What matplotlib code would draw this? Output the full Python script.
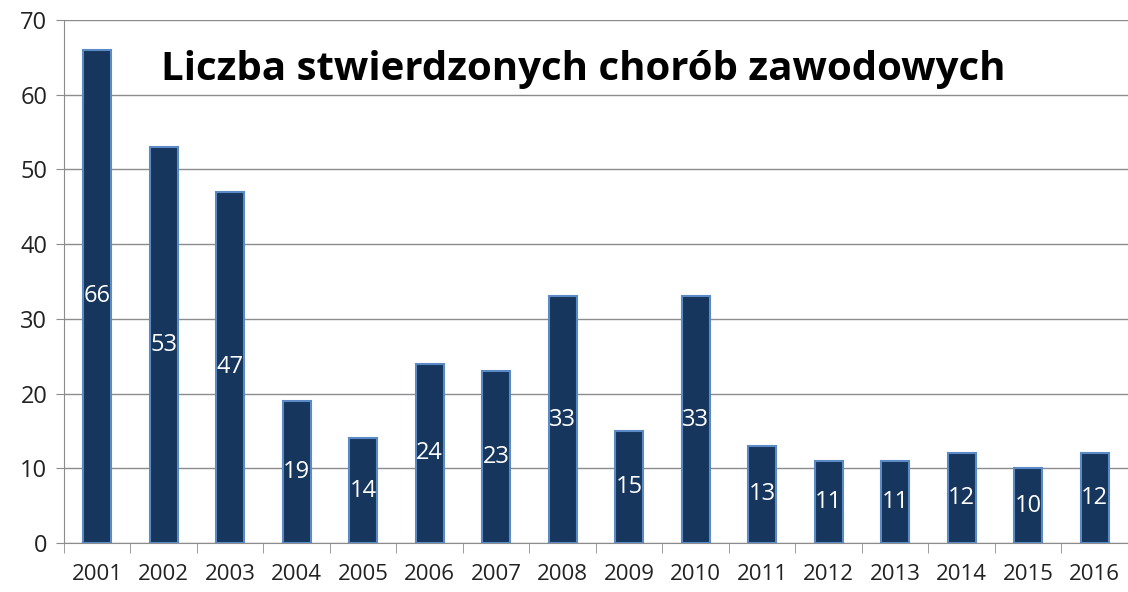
import matplotlib.pyplot as plt
import numpy as np

years = ['2001', '2002', '2003', '2004', '2005', '2006', '2007', '2008',
         '2009', '2010', '2011', '2012', '2013', '2014', '2015', '2016']
cases = [66, 53, 47, 19, 14, 24, 23, 33, 15, 33, 13, 11, 11, 12, 10, 12]
y_ticks = [0, 10, 20, 30, 40, 50, 60, 70]

plt.rcParams['font.family'] = ['Open Sans', 'DejaVu Sans']

fig = plt.figure(figsize=(11.28, 5.92), dpi=100)
ax = fig.add_axes([0.0567, 0.0828, 0.9433, 0.8834])

x = np.arange(len(years))
bars = ax.bar(x, cases, width=0.42, color='#17365D', edgecolor='#5B8BC7',
              linewidth=1.5, zorder=3)

# value labels in the middle of each bar
for xi, v in zip(x, cases):
    ax.text(xi, v / 2, str(v), ha='center', va='center', color='white',
            fontsize=17, zorder=4)

ax.set_xlim(-0.5, len(years) - 0.5)
ax.set_ylim(0, 70)
ax.set_yticks(y_ticks)
ax.grid(axis='y', color='#8C8C8C', linewidth=1, zorder=0)

ax.set_xticks(x)
ax.set_xticklabels(years, fontsize=16)
ax.set_xticks(np.arange(len(years) + 1) - 0.5, minor=True)
ax.tick_params(axis='x', which='major', length=0, pad=15)
ax.tick_params(axis='x', which='minor', length=7, color='#8C8C8C')
ax.tick_params(axis='y', length=6, color='#8C8C8C', labelsize=17, pad=6)
for lab in ax.get_yticklabels():
    lab.set_color('#222222')
for lab in ax.get_xticklabels():
    lab.set_color('#222222')

for side in ['top', 'right']:
    ax.spines[side].set_visible(False)
ax.spines['left'].set_color('#8C8C8C')
ax.spines['bottom'].set_color('#8C8C8C')

fig.text(0.517, 0.882, 'Liczba stwierdzonych chorób zawodowych',
         ha='center', va='center', fontsize=29, fontweight='bold', color='black')

fig.savefig('out.png', dpi=100)
